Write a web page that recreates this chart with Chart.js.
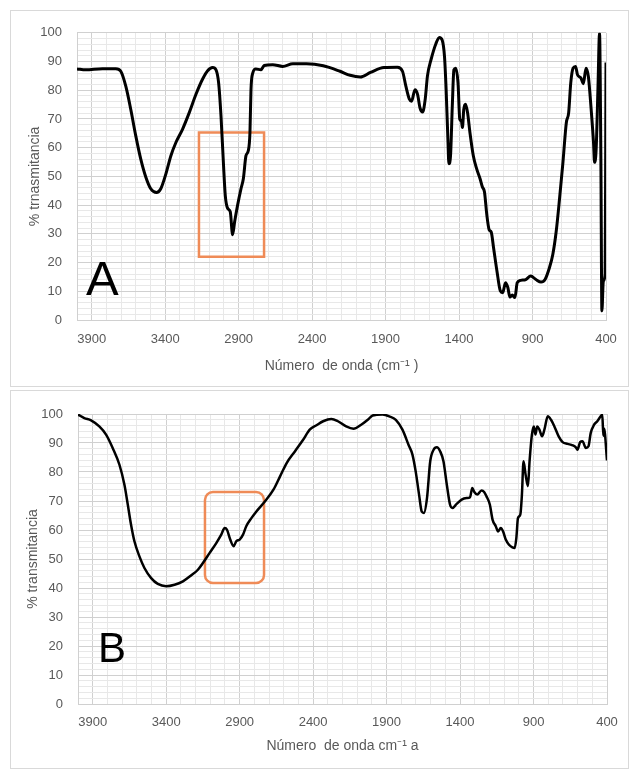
<!DOCTYPE html>
<html>
<head>
<meta charset="utf-8">
<script src="https://cdn.jsdelivr.net/npm/chart.js@4/dist/chart.umd.min.js"></script>
<style>
  body { margin: 0; background: #fff; width: 631px; height: 769px; position: relative; overflow: hidden; }
  .panel { position: absolute; left: 10px; width: 619px; outline: 1px solid #d9d9d9; outline-offset: -1px; }
  .panel canvas { position: absolute; left: 0; top: 0; }
</style>
</head>
<body>
<div class="panel" style="top:10px;height:377px"><canvas id="chartA" width="619" height="377"></canvas></div>
<div class="panel" style="top:390px;height:379px"><canvas id="chartB" width="619" height="379"></canvas></div>
<script>
'use strict'

// espectro A (numero de onda, % transmitancia)
let wnA = [4000, 3941, 3827, 3736, 3702, 3668, 3634, 3600, 3566, 3532, 3498, 3459, 3430, 3395, 3361, 3327, 3282, 3236, 3191, 3145,
    3111, 3077, 3054, 3036, 3020, 3004, 2991, 2975, 2957, 2941, 2927, 2907, 2884, 2868, 2850, 2834, 2823, 2816, 2804, 2783,
    2749, 2726, 2668, 2600, 2531, 2439, 2324, 2210, 2141, 2072, 2003, 1911, 1820, 1785, 1762, 1739, 1723, 1700, 1682, 1666,
    1648, 1630, 1615, 1591, 1557, 1534, 1515, 1499, 1488, 1476, 1469, 1458, 1446, 1435, 1423, 1407, 1395, 1384, 1377, 1368,
    1356, 1342, 1326, 1303, 1280, 1257, 1241, 1227, 1211, 1195, 1181, 1165, 1142, 1119, 1103, 1084, 1068, 1054, 1038, 1020,
    1004, 981, 946, 912, 877, 842, 815, 785, 762, 739, 716, 693, 670, 654, 640, 624, 607, 594, 571, 554,
    536, 520, 501, 485, 478, 467, 455, 444, 435, 428, 418, 406, 402, 400]
let tA = [87.4, 87.1, 87.5, 87.5, 86.6, 81.4, 73.3, 64.1, 56, 49.8, 45.7, 44.4, 45.7, 50.9, 57.2, 61.8, 66.4, 72.2, 78.5, 83.9,
    86.8, 87.9, 87.1, 82.5, 71, 55, 43.4, 38.9, 37.7, 29.7, 34.3, 40, 45.7, 49.2, 57.2, 59, 65.3, 80.2, 86, 87.4,
    87.1, 88.6, 88.9, 88.3, 89.2, 89.2, 88.5, 86.6, 85.2, 84.6, 86.2, 87.9, 88, 86.6, 81.4, 77, 76.2, 80.2, 78.5, 73.9,
    72.4, 77, 85, 90.6, 96.3, 98.4, 97.5, 91.7, 80.2, 63, 54.4, 57.2, 74.5, 87.1, 87.7, 82.5, 69.9, 69.3, 67, 73.3,
    75.1, 72.2, 65.3, 57.2, 52.6, 49.2, 46.3, 44.6, 36.6, 31.4, 30.6, 25.1, 17, 10.1, 9.5, 13, 11.3, 8, 8.7, 7.8,
    13, 13.8, 14.1, 15.3, 14.1, 13.2, 14.1, 18.2, 22.8, 30.8, 42.3, 54.9, 68.7, 72.2, 82.5, 87.7, 88.3, 85.4, 84.3, 82.3,
    87.7, 84.8, 73.3, 61.8, 54.9, 59.5, 80.2, 99.8, 57.2, 3.2, 13.6, 16, 60, 89.7]

// espectro B
let wnB = [4000, 3957, 3911, 3855, 3809, 3764, 3718, 3684, 3661, 3639, 3616, 3582, 3548, 3502, 3457, 3400, 3343, 3286, 3229, 3184,
    3150, 3104, 3059, 3025, 3002, 2986, 2964, 2941, 2923, 2900, 2877, 2855, 2820, 2786, 2727, 2670, 2625, 2580, 2524, 2468,
    2423, 2377, 2332, 2276, 2231, 2175, 2125, 2073, 2028, 1995, 1927, 1882, 1837, 1792, 1751, 1724, 1702, 1679, 1661, 1646,
    1625, 1603, 1580, 1558, 1535, 1513, 1490, 1468, 1452, 1423, 1389, 1355, 1332, 1317, 1303, 1283, 1254, 1236, 1220, 1197,
    1179, 1157, 1141, 1123, 1107, 1089, 1067, 1044, 1028, 1017, 1006, 990, 979, 968, 954, 938, 927, 911, 898, 887,
    875, 860, 842, 826, 803, 781, 758, 729, 702, 668, 634, 612, 601, 583, 567, 544, 526, 511, 488, 466,
    443, 432, 425, 420, 400]
let tB = [99.8, 98.6, 97.8, 95.7, 92.9, 88.3, 82.5, 75.6, 68.7, 61.8, 56.1, 50.9, 46.9, 43.4, 41.4, 40.6, 41.1, 42.3, 44.4, 46.3,
    48.6, 52.1, 55.5, 58.4, 60.7, 60.1, 56.7, 54.4, 56.1, 56.7, 58.4, 61.3, 64.1, 66.4, 69.9, 73.9, 78.5, 83.1, 87.1, 91.1,
    94.6, 96.1, 97.5, 98.3, 97.5, 95.7, 94.9, 96.3, 98, 99.5, 99.8, 99.2, 98, 94.6, 89.4, 86, 80.2, 72.2, 66.4, 65.9,
    71, 83.7, 87.7, 88.5, 87.1, 83.7, 75.6, 68.7, 67.6, 69, 70.5, 71, 71.3, 74.5, 73.1, 72.2, 73.6, 73.1, 71.6, 68.7,
    63.6, 61.3, 59.5, 60.7, 59.5, 56.7, 54.9, 54, 53.8, 57.2, 64.1, 65.3, 72.2, 83.7, 79.1, 75.1, 83.7, 92.9, 95.7, 92.9,
    95.7, 94.6, 92.3, 94.6, 99.2, 98, 95.7, 92.3, 90.3, 89.7, 89.2, 88.5, 87.7, 90.3, 90.6, 88.3, 88.9, 93.4, 96.3, 97.5,
    99.2, 99.8, 92.5, 95, 84]

// recuadros naranjas: [wn desde, wn hasta, %T abajo, %T arriba]
let boxA = [3170, 2727, 22, 65.3]
let boxB = [3136, 2734, 41.7, 73.1]

let xTickLabels = [3900, 3400, 2900, 2400, 1900, 1400, 900, 400]
let yTickLabels = [0, 10, 20, 30, 40, 50, 60, 70, 80, 90, 100]

const FONT = '"Liberation Sans", Arial, sans-serif'
const GREY = '#595959'

let xMinor = []
for (let v = 400; v <= 3900; v += 100) xMinor.push(v)
let yMinor = []
for (let v = 0; v <= 100; v += 2) yMinor.push(v)

const overlay = {
    id: 'overlay',
    beforeDatasetsDraw(chart, args, opts) {
        const {ctx, chartArea, scales: {x, y}} = chart
        const b = opts.box
        const x1 = x.getPixelForValue(b[0]), x2 = x.getPixelForValue(b[1])
        const y1 = y.getPixelForValue(b[3]), y2 = y.getPixelForValue(b[2])
        ctx.save()
        ctx.strokeStyle = '#ef8b57'
        ctx.lineWidth = 2.5
        ctx.beginPath()
        if (opts.radius) ctx.roundRect(x1, y1, x2 - x1, y2 - y1, opts.radius)
        else ctx.rect(x1, y1, x2 - x1, y2 - y1)
        ctx.stroke()
        ctx.fillStyle = '#000'
        ctx.font = opts.letterSize + 'px ' + FONT
        ctx.textBaseline = 'alphabetic'
        ctx.textAlign = 'left'
        ctx.fillText(opts.letter, chartArea.left + opts.letterX, chartArea.bottom - opts.letterY)
        ctx.restore()
    }
}

function makeChart(id, wn, t, cfg) {
    let points = wn.map((v, i) => ({x: v, y: t[i]}))
    return new Chart(document.getElementById(id), {
        type: 'line',
        data: {
            datasets: [{
                data: points,
                borderColor: '#000',
                borderWidth: cfg.lineWidth,
                pointRadius: 0,
                cubicInterpolationMode: 'monotone',
                fill: false
            }]
        },
        options: {
            responsive: false,
            animation: false,
            events: [],
            layout: {padding: cfg.padding},
            plugins: {
                legend: {display: false},
                tooltip: {enabled: false},
                overlay: cfg.overlay
            },
            scales: {
                x: {
                    type: 'linear',
                    reverse: true,
                    min: 400,
                    max: 4000,
                    afterBuildTicks: s => { s.ticks = xMinor.map(v => ({value: v})) },
                    afterFit: s => { s.height = cfg.xHeight },
                    ticks: {
                        autoSkip: false, maxRotation: 0, minRotation: 0,
                        padding: cfg.xTickPad,
                        color: GREY,
                        font: {family: FONT, size: 13},
                        callback: v => xTickLabels.includes(v) ? String(v) : ''
                    },
                    grid: {
                        drawTicks: false,
                        color: c => xTickLabels.includes(c.tick && c.tick.value) ? '#d0d0d0' : '#e8e8e8'
                    },
                    border: {color: '#d0d0d0'},
                    title: {
                        display: true, text: cfg.xTitle, color: GREY,
                        font: {family: FONT, size: 14}, padding: 0
                    }
                },
                y: {
                    min: 0,
                    max: 100,
                    afterBuildTicks: s => { s.ticks = yMinor.map(v => ({value: v})) },
                    afterFit: s => { s.width = cfg.yWidth },
                    ticks: {
                        autoSkip: false,
                        padding: 15,
                        color: GREY,
                        font: {family: FONT, size: 13},
                        callback: v => yTickLabels.includes(v) ? String(v) : ''
                    },
                    grid: {
                        drawTicks: false,
                        color: c => yTickLabels.includes(c.tick && c.tick.value) ? '#d0d0d0' : '#e8e8e8'
                    },
                    border: {color: '#d0d0d0'},
                    title: {
                        display: true, text: cfg.yTitle, color: GREY,
                        font: {family: FONT, size: 14}, padding: 0
                    }
                }
            }
        },
        plugins: [overlay]
    })
}

makeChart('chartA', wnA, tA, {
    lineWidth: 3,
    padding: {left: 17, right: 23, top: 19, bottom: 12},
    xHeight: 55, yWidth: 50, xTickPad: 12,
    xTitle: 'Número  de onda (cm⁻¹ )',
    yTitle: '% trnasmitancia',
    overlay: {box: boxA, radius: 0, letter: 'A', letterSize: 49, letterX: 9, letterY: 25}
})

makeChart('chartB', wnB, tB, {
    lineWidth: 2.5,
    padding: {left: 15, right: 22, top: 24, bottom: 14},
    xHeight: 51, yWidth: 53, xTickPad: 11,
    xTitle: 'Número  de onda cm⁻¹ a',
    yTitle: '% transmitancia',
    overlay: {box: boxB, radius: 8, letter: 'B', letterSize: 42, letterX: 20, letterY: 42}
})
</script>
</body>
</html>
